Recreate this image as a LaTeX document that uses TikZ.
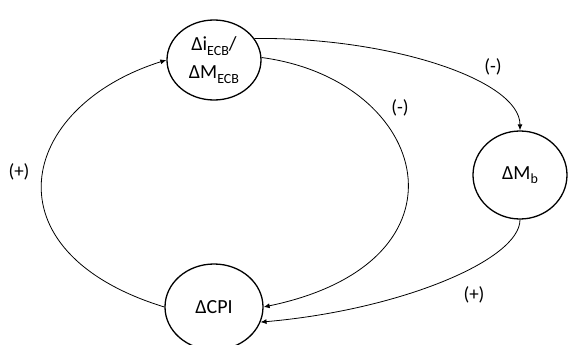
\documentclass[tikz,border=0pt]{standalone}
\usepackage{fontspec}
\setmainfont{Carlito}
\usetikzlibrary{shapes.geometric,arrows.meta}
\newcommand{\lowsub}[1]{\raisebox{-0.22em}{\fontsize{14}{14}\selectfont #1}}
\tikzset{
  stateell/.style={ellipse, draw, line width=1.3pt, inner sep=0pt, align=center,
    font=\fontsize{20}{28}\selectfont},
  arr/.style={line width=0.8pt, -{Latex[length=6pt,width=5pt]}},
  sign/.style={font=\fontsize{19}{23}\selectfont, inner sep=0pt}
}
\begin{document}
\begin{tikzpicture}[x=1pt,y=-1pt]
\useasboundingbox (0,0) rectangle (568,345);
\node[stateell, minimum width=94pt, minimum height=80pt] (top) at (214,60)
  {Δi\lowsub{ECB}/\\ΔM\lowsub{ECB}};
\node[stateell, minimum width=94pt, minimum height=88pt] (mb) at (520,175)
  {ΔM\lowsub{b}};
\node[stateell, minimum width=98pt, minimum height=86pt] (cpi) at (214,307)
  {ΔCPI};
\draw[arr] (cpi.west) .. controls (-15,252) and (17,107) .. (top.west);
\draw[arr] (top.3) .. controls (430,80) and (480,262) .. (cpi.east);
\draw[arr] (top.28) .. controls (390,37) and (520,80) .. (mb.north);
\draw[arr] (mb.south) .. controls (520,260) and (400,310) .. (cpi.-18);
\node[sign] (l1) at (19,172) {(+)};
\node[sign] (l2) at (400,108) {(-)};
\node[sign] (l3) at (493,67) {(-)};
\node[sign] (l4) at (474,295) {(+)};
\end{tikzpicture}
\end{document}
